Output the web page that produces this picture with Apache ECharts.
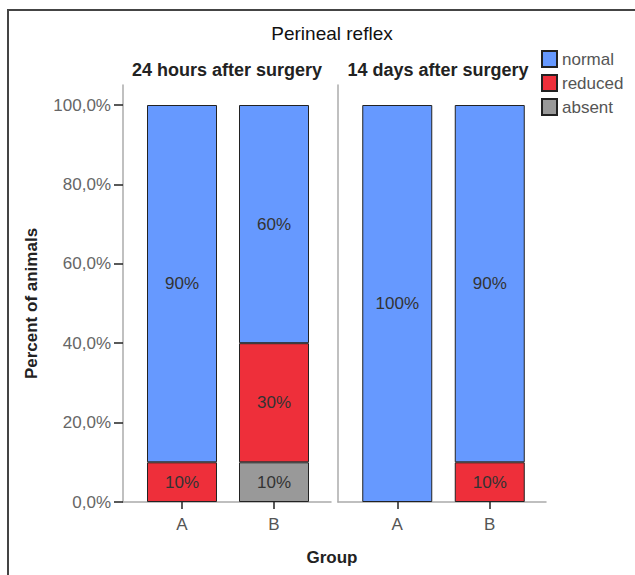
<!DOCTYPE html>
<html>
<head>
<meta charset="utf-8">
<script src="https://cdn.jsdelivr.net/npm/echarts@6/dist/echarts.min.js"></script>
<style>
html,body{margin:0;padding:0;background:#fff;}
#chart{width:635px;height:575px;}
</style>
</head>
<body>
<div id="chart"></div>
<script>
// ---- data ----
var chartTitle = 'Perineal reflex';
var panelTitles = ['24 hours after surgery', '14 days after surgery'];
var categories = ['A', 'B'];
var seriesNames = ['normal', 'reduced', 'absent'];
var normal24 = [90, 60];
var reduced24 = [10, 30];
var absent24 = [null, 10];
var normal14 = [100, 90];
var reduced14 = [null, 10];
var absent14 = [null, null];
var yTicks = [0, 20, 40, 60, 80, 100];
var yTitle = 'Percent of animals';
var xTitle = 'Group';

// ---- styling ----
var colors = { normal: '#6699FF', reduced: '#EE2F3A', absent: '#999999' };
var FONT = 'Liberation Sans, Arial, sans-serif';
var axisGray = '#ababab';

var chart = echarts.init(document.getElementById('chart'), null, { renderer: 'svg' });

function frameX(gi) {
  return { type: 'value', gridIndex: gi, min: 0, max: 1,
    axisLine: { show: true, lineStyle: { color: axisGray, width: 1.5 } },
    axisTick: { show: false }, axisLabel: { show: false }, splitLine: { show: false } };
}
function frameY(gi) {
  return { type: 'value', gridIndex: gi, min: 0, max: 1,
    axisLine: { show: true, lineStyle: { color: axisGray, width: 1.5 } },
    axisTick: { show: false }, axisLabel: { show: false }, splitLine: { show: false } };
}
function barX(gi) {
  return { type: 'category', gridIndex: gi, data: categories,
    axisLine: { show: false },
    axisTick: { show: true, alignWithLabel: true, length: 7, lineStyle: { color: '#222', width: 1.5 } },
    axisLabel: { color: '#555', fontSize: 17, fontFamily: FONT, margin: 14 } };
}

function mkSeries(name, data, xi, yi, stack) {
  return {
    name: name, type: 'bar', stack: stack, xAxisIndex: xi, yAxisIndex: yi,
    data: data, barWidth: 70,
    itemStyle: { color: colors[name], borderColor: '#222', borderWidth: 1 },
    label: { show: true, position: 'inside', color: '#333', fontSize: 17, fontFamily: FONT,
      formatter: function (p) { return p.value == null ? '' : p.value + '%'; } },
    emphasis: { disabled: true }
  };
}

var option = {
  animation: false,
  backgroundColor: '#fff',
  grid: [
    { left: 123, top: 85, width: 208, height: 417 },
    { left: 136, top: 105, width: 184, height: 397 },
    { left: 338, top: 85, width: 208, height: 417 },
    { left: 351, top: 105, width: 185, height: 397 }
  ],
  xAxis: [frameX(0), barX(1), frameX(2), barX(3)],
  yAxis: [
    frameY(0),
    { type: 'value', gridIndex: 1, min: yTicks[0], max: yTicks[yTicks.length - 1], interval: yTicks[1] - yTicks[0],
      offset: 13,
      axisLine: { show: false },
      axisTick: { show: true, length: 9, lineStyle: { color: '#222', width: 1.5 } },
      axisLabel: { color: '#666', fontSize: 17, fontFamily: FONT, margin: 12,
        formatter: function (v) { return v.toFixed(1).replace('.', ',') + '%'; } },
      splitLine: { show: false },
      name: yTitle, nameLocation: 'middle', nameGap: 83,
      nameTextStyle: { color: '#222', fontSize: 17, fontWeight: 'bold', fontFamily: FONT } },
    frameY(2),
    { type: 'value', gridIndex: 3, min: yTicks[0], max: yTicks[yTicks.length - 1], show: false, splitLine: { show: false } }
  ],
  legend: {
    orient: 'vertical', left: 541, top: 50, padding: 0,
    itemWidth: 15, itemHeight: 16, itemGap: 6, icon: 'rect',
    data: seriesNames,
    textStyle: { color: '#555', fontSize: 17, fontFamily: FONT },
    selectedMode: false
  },
  graphic: [
    { type: 'rect', shape: { x: 8, y: 10, width: 800, height: 800 }, style: { fill: 'none', stroke: '#444', lineWidth: 2 }, silent: true },
    { type: 'text', x: 332, y: 33, style: { text: chartTitle, textAlign: 'center', textVerticalAlign: 'middle', fill: '#111', fontSize: 19, fontFamily: FONT } },
    { type: 'text', x: 227, y: 70, style: { text: panelTitles[0], textAlign: 'center', textVerticalAlign: 'middle', fill: '#222', fontSize: 18, fontWeight: 'bold', fontFamily: FONT } },
    { type: 'text', x: 438, y: 70, style: { text: panelTitles[1], textAlign: 'center', textVerticalAlign: 'middle', fill: '#222', fontSize: 18, fontWeight: 'bold', fontFamily: FONT } },
    { type: 'text', x: 332, y: 557, style: { text: xTitle, textAlign: 'center', textVerticalAlign: 'middle', fill: '#222', fontSize: 17, fontWeight: 'bold', fontFamily: FONT } }
  ],
  series: [
    mkSeries('absent', absent24, 1, 1, 'p1'),
    mkSeries('reduced', reduced24, 1, 1, 'p1'),
    mkSeries('normal', normal24, 1, 1, 'p1'),
    mkSeries('absent', absent14, 3, 3, 'p2'),
    mkSeries('reduced', reduced14, 3, 3, 'p2'),
    mkSeries('normal', normal14, 3, 3, 'p2')
  ]
};
chart.setOption(option);
</script>
</body>
</html>
